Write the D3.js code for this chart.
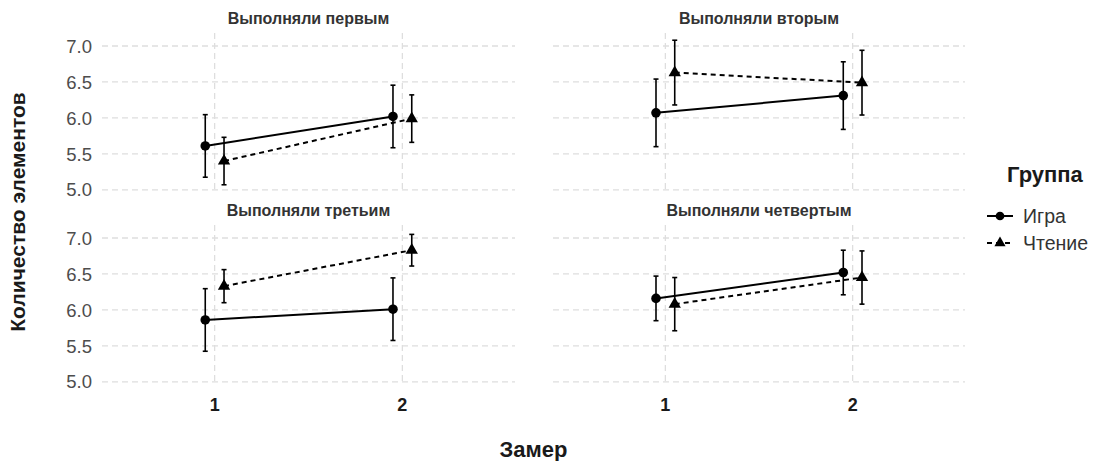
<!DOCTYPE html>
<html>
<head>
<meta charset="utf-8">
<script src="https://cdn.jsdelivr.net/npm/d3@7"></script>
<style>
  html, body { margin: 0; padding: 0; background: #ffffff; }
  svg { display: block; font-family: "Liberation Sans", Arial, sans-serif; }
</style>
</head>
<body>
<svg id="chart" width="1104" height="461"></svg>
<script>
// Facet panels (order of execution) and measurement occasions
const panels = ["Выполняли первым", "Выполняли вторым", "Выполняли третьим", "Выполняли четвертым"];
const measures = [1, 2];
const groups = ["Игра", "Чтение"];
const yTicks = [5.0, 5.5, 6.0, 6.5, 7.0];

// Mean number of elements per panel, for each measurement (1, 2)
const gameMean = [[5.61, 6.02], [6.07, 6.31], [5.86, 6.01], [6.16, 6.52]];
const readMean = [[5.40, 5.99], [6.63, 6.49], [6.33, 6.83], [6.08, 6.45]];
// Error bar half-widths
const gameErr = [[0.435, 0.435], [0.47, 0.47], [0.435, 0.435], [0.31, 0.31]];
const readErr = [[0.33, 0.33], [0.45, 0.45], [0.23, 0.22], [0.37, 0.37]];

const svg = d3.select("#chart");

// Panel geometry
const cols = [[102, 515], [553, 965]];
const rows = [[33, 192], [225, 384]];
const dodge = 0.05;

// Shared y domain from the error bar extent, expanded by 5%
const allLo = [], allHi = [];
[[gameMean, gameErr], [readMean, readErr]].forEach(([m, e]) => {
  m.forEach((p, i) => p.forEach((v, j) => { allLo.push(v - e[i][j]); allHi.push(v + e[i][j]); }));
});
const lo = d3.min(allLo), hi = d3.max(allHi), span = hi - lo;
const yDomain = [lo - 0.05 * span, hi + 0.05 * span];

const gridColor = "#dedede";
const lineGen = d3.line().x(d => d[0]).y(d => d[1]);

panels.forEach((title, pi) => {
  const c = cols[pi % 2], r = rows[Math.floor(pi / 2)];
  const x = d3.scaleLinear().domain([0.4, 2.6]).range(c);
  const y = d3.scaleLinear().domain(yDomain).range([r[1], r[0]]);
  const g = svg.append("g");

  // grid
  g.selectAll(".hg").data(yTicks).join("line")
    .attr("x1", c[0]).attr("x2", c[1])
    .attr("y1", d => y(d)).attr("y2", d => y(d))
    .attr("stroke", gridColor).attr("stroke-width", 1.3).attr("stroke-dasharray", "6,4");
  g.selectAll(".vg").data(measures).join("line")
    .attr("x1", d => x(d)).attr("x2", d => x(d))
    .attr("y1", r[0]).attr("y2", r[1])
    .attr("stroke", gridColor).attr("stroke-width", 1.3).attr("stroke-dasharray", "6,4");

  // strip title
  g.append("text").attr("x", (c[0] + c[1]) / 2).attr("y", r[0] - 9)
    .attr("text-anchor", "middle").attr("font-size", 16).attr("font-weight", "bold")
    .attr("fill", "#333333").text(title);

  // y tick labels only on the left column
  if (pi % 2 === 0) {
    g.selectAll(".yt").data(yTicks).join("text")
      .attr("x", 92).attr("y", d => y(d)).attr("dy", "0.36em")
      .attr("text-anchor", "end").attr("font-size", 18.5).attr("fill", "#4d4d4d")
      .text(d => d3.format(".1f")(d));
  }
  // x tick labels only on the bottom row
  if (pi >= 2) {
    g.selectAll(".xt").data(measures).join("text")
      .attr("x", d => x(d)).attr("y", 411)
      .attr("text-anchor", "middle").attr("font-size", 18).attr("font-weight", "bold")
      .attr("fill", "#1a1a1a").text(d => d);
  }

  const series = [
    { mean: gameMean[pi], err: gameErr[pi], off: -dodge, dash: null, shape: "circle" },
    { mean: readMean[pi], err: readErr[pi], off: dodge, dash: "5,4", shape: "triangle" }
  ];
  series.forEach(s => {
    const pts = measures.map((m, j) => [x(m + s.off), y(s.mean[j])]);
    // error bars
    measures.forEach((m, j) => {
      const cx = x(m + s.off);
      const y1 = y(s.mean[j] - s.err[j]), y2 = y(s.mean[j] + s.err[j]);
      g.append("line").attr("x1", cx).attr("x2", cx).attr("y1", y1).attr("y2", y2)
        .attr("stroke", "#000").attr("stroke-width", 1.6);
      [y1, y2].forEach(yy => g.append("line").attr("x1", cx - 2.5).attr("x2", cx + 2.5)
        .attr("y1", yy).attr("y2", yy).attr("stroke", "#000").attr("stroke-width", 1.6));
    });
    // connecting line
    g.append("path").attr("d", lineGen(pts)).attr("fill", "none")
      .attr("stroke", "#000").attr("stroke-width", 2)
      .attr("stroke-dasharray", s.dash);
    // points
    const sym = s.shape === "circle" ? d3.symbolCircle : d3.symbolTriangle;
    const size = s.shape === "circle" ? 72 : 66;
    g.selectAll(null).data(pts).join("path")
      .attr("transform", d => `translate(${d[0]},${d[1]})`)
      .attr("d", d3.symbol(sym, size)).attr("fill", "#000");
  });
});

// axis titles
svg.append("text").attr("x", (cols[0][0] + cols[1][1]) / 2).attr("y", 457)
  .attr("text-anchor", "middle").attr("font-size", 22).attr("font-weight", "bold")
  .attr("fill", "#1a1a1a").text("Замер");
svg.append("text").attr("transform", "translate(25,212) rotate(-90)")
  .attr("text-anchor", "middle").attr("font-size", 21).attr("font-weight", "bold")
  .attr("fill", "#1a1a1a").text("Количество элементов");

// legend
const lg = svg.append("g");
lg.append("text").attr("x", 1007).attr("y", 182).attr("font-size", 22).attr("font-weight", "bold")
  .attr("fill", "#1a1a1a").text("Группа");
const legY = [216, 243];
groups.forEach((name, i) => {
  const yy = legY[i];
  lg.append("line").attr("x1", 987).attr("x2", 1013).attr("y1", yy).attr("y2", yy)
    .attr("stroke", "#000").attr("stroke-width", 2)
    .attr("stroke-dasharray", i === 1 ? "5,4" : null);
  lg.append("path").attr("transform", `translate(1000,${yy})`)
    .attr("d", d3.symbol(i === 0 ? d3.symbolCircle : d3.symbolTriangle, i === 0 ? 60 : 54))
    .attr("fill", "#000");
  lg.append("text").attr("x", 1023).attr("y", yy).attr("dy", "0.36em")
    .attr("font-size", 19.5).attr("fill", "#333333").text(name);
});
</script>
</body>
</html>
